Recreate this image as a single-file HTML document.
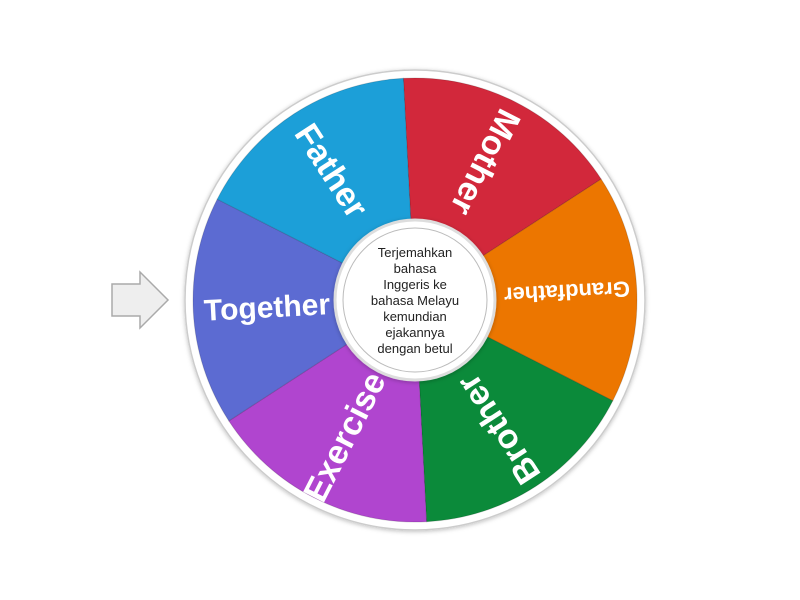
<!DOCTYPE html>
<html><head><meta charset="utf-8"><style>html,body{margin:0;padding:0;background:#fff;width:800px;height:600px;overflow:hidden}</style></head>
<body>
<svg width="800" height="600" viewBox="0 0 800 600" xmlns="http://www.w3.org/2000/svg" font-family="Liberation Sans, sans-serif">
<defs>
<filter id="sh" x="-20%" y="-20%" width="140%" height="140%"><feDropShadow dx="0" dy="1" stdDeviation="2" flood-color="#000" flood-opacity="0.25"/></filter>
</defs>
<polygon points="112,284 140,284 140,272 168,300 140,328 140,316 112,316" fill="#eeeeee" stroke="#aaaaaa" stroke-width="1.5"/>
<circle cx="415" cy="300" r="230" fill="#fff" stroke="#ccc" stroke-width="1.5" filter="url(#sh)"/>
<g stroke="rgba(0,0,0,0.15)" stroke-width="1">
<path d="M415,300 L403.4,78.3 A222,222 0 0 1 601.2,179.1 Z" fill="#d2283b"/>
<path d="M415,300 L601.2,179.1 A222,222 0 0 1 612.8,400.8 Z" fill="#ec7600"/>
<path d="M415,300 L612.8,400.8 A222,222 0 0 1 426.6,521.7 Z" fill="#0b8a3a"/>
<path d="M415,300 L426.6,521.7 A222,222 0 0 1 228.8,420.9 Z" fill="#b045cf"/>
<path d="M415,300 L228.8,420.9 A222,222 0 0 1 217.2,199.2 Z" fill="#5c6bd2"/>
<path d="M415,300 L217.2,199.2 A222,222 0 0 1 403.4,78.3 Z" fill="#1c9fd8"/>
</g>
<g fill="#fff" font-size="34" font-weight="bold" text-anchor="middle" dominant-baseline="central">
<text transform="translate(485,162) rotate(117)">Mother</text>
<text transform="translate(567,292) rotate(177)" font-size="22">Grandfather</text>
<text transform="translate(499,429) rotate(237)">Brother</text>
<text transform="translate(345,437) rotate(297)">Exercise</text>
<text transform="translate(267,308) rotate(357)" font-size="30">Together</text>
<text transform="translate(331,171) rotate(57)">Father</text>
</g>
<circle cx="415" cy="300" r="80" fill="#fff" stroke="#ddd" stroke-width="3" filter="url(#sh)"/>
<circle cx="415" cy="300" r="72" fill="#fff" stroke="#bbb" stroke-width="1"/>
<g font-size="13" fill="#222" text-anchor="middle">
<text x="415" y="257">Terjemahkan</text>
<text x="415" y="273">bahasa</text>
<text x="415" y="289">Inggeris ke</text>
<text x="415" y="305">bahasa Melayu</text>
<text x="415" y="321">kemundian</text>
<text x="415" y="337">ejakannya</text>
<text x="415" y="353">dengan betul</text>
</g>
</svg>
</body></html>
